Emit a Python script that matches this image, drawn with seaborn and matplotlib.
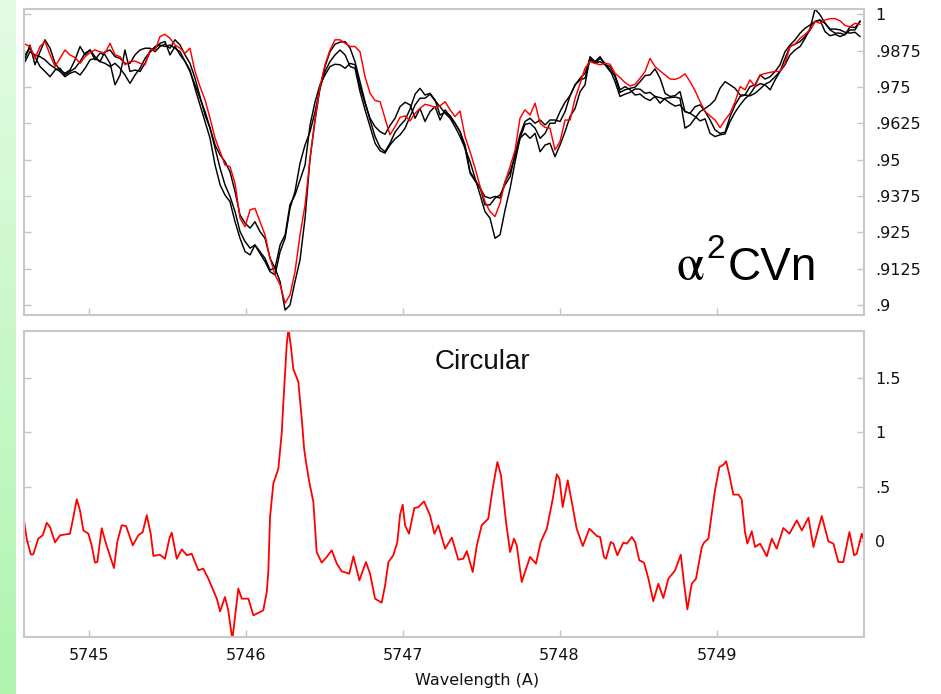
import numpy as np
import matplotlib
matplotlib.use('Agg')
import matplotlib.pyplot as plt
from matplotlib.colors import LinearSegmentedColormap
import seaborn as sns

# wavelength grid of the intensity spectra (A)
wl_top = [
    5744.596, 5744.627, 5744.659, 5744.691, 5744.723, 5744.755, 5744.787, 5744.818, 5744.850, 5744.882,
    5744.914, 5744.946, 5744.978, 5745.010, 5745.041, 5745.073, 5745.105, 5745.137, 5745.169, 5745.201,
    5745.232, 5745.264, 5745.296, 5745.328, 5745.360, 5745.392, 5745.424, 5745.455, 5745.487, 5745.519,
    5745.551, 5745.583, 5745.615, 5745.646, 5745.678, 5745.710, 5745.742, 5745.774, 5745.806, 5745.838,
    5745.869, 5745.901, 5745.933, 5745.965, 5745.997, 5746.029, 5746.060, 5746.092, 5746.124, 5746.156,
    5746.188, 5746.220, 5746.252, 5746.283, 5746.315, 5746.347, 5746.379, 5746.411, 5746.443, 5746.474,
    5746.506, 5746.538, 5746.570, 5746.602, 5746.634, 5746.666, 5746.697, 5746.729, 5746.761, 5746.793,
    5746.825, 5746.857, 5746.888, 5746.920, 5746.952, 5746.984, 5747.016, 5747.048, 5747.080, 5747.111,
    5747.143, 5747.175, 5747.207, 5747.239, 5747.271, 5747.303, 5747.334, 5747.366, 5747.398, 5747.430,
    5747.462, 5747.494, 5747.525, 5747.557, 5747.589, 5747.621, 5747.653, 5747.685, 5747.717, 5747.748,
    5747.780, 5747.812, 5747.844, 5747.876, 5747.908, 5747.939, 5747.971, 5748.003, 5748.035, 5748.067,
    5748.099, 5748.131, 5748.162, 5748.194, 5748.226, 5748.258, 5748.290, 5748.322, 5748.353, 5748.385,
    5748.417, 5748.449, 5748.481, 5748.513, 5748.545, 5748.576, 5748.608, 5748.640, 5748.672, 5748.704,
    5748.736, 5748.767, 5748.799, 5748.831, 5748.863, 5748.895, 5748.927, 5748.959, 5748.990, 5749.022,
    5749.054, 5749.086, 5749.118, 5749.150, 5749.181, 5749.213, 5749.245, 5749.277, 5749.309, 5749.341,
    5749.373, 5749.404, 5749.436, 5749.468, 5749.500, 5749.532, 5749.564, 5749.596, 5749.627, 5749.659,
    5749.691, 5749.723, 5749.755, 5749.787, 5749.818, 5749.850, 5749.882, 5749.914]

# intensity (red one + three black ones)
flux_red = [
    0.9897, 0.9889, 0.9848, 0.9889, 0.9906, 0.9860, 0.9820, 0.9848, 0.9877, 0.9860,
    0.9851, 0.9831, 0.9854, 0.9868, 0.9877, 0.9871, 0.9866, 0.9900, 0.9860, 0.9854,
    0.9826, 0.9837, 0.9839, 0.9831, 0.9826, 0.9877, 0.9877, 0.9923, 0.9931, 0.9917,
    0.9894, 0.9883, 0.9866, 0.9883, 0.9803, 0.9751, 0.9705, 0.9642, 0.9573, 0.9527,
    0.9481, 0.9476, 0.9418, 0.9298, 0.9269, 0.9327, 0.9332, 0.9286, 0.9241, 0.9160,
    0.9103, 0.9069, 0.9006, 0.9034, 0.9114, 0.9240, 0.9344,
    0.9504, 0.9642, 0.9751, 0.9826, 0.9877, 0.9912, 0.9912, 0.9900, 0.9889, 0.9889,
    0.9871, 0.9785, 0.9728, 0.9703, 0.9699, 0.9642, 0.9585, 0.9613, 0.9645, 0.9650,
    0.9633, 0.9659, 0.9676, 0.9690, 0.9686, 0.9679, 0.9685, 0.9699, 0.9671, 0.9648,
    0.9667, 0.9579, 0.9527, 0.9470, 0.9407, 0.9355, 0.9321, 0.9304, 0.9350, 0.9424,
    0.9476, 0.9533, 0.9642, 0.9671, 0.9653, 0.9694, 0.9625, 0.9610, 0.9608, 0.9533,
    0.9562, 0.9636, 0.9636, 0.9711, 0.9762, 0.9814,
    0.9837, 0.9831, 0.9826, 0.9831, 0.9828, 0.9797, 0.9782, 0.9765, 0.9753, 0.9759,
    0.9780, 0.9803, 0.9848, 0.9820, 0.9805, 0.9791, 0.9777, 0.9776, 0.9782, 0.9795,
    0.9768, 0.9737, 0.9699, 0.9665, 0.9650, 0.9636, 0.9610, 0.9636, 0.9659, 0.9699,
    0.9751, 0.9740, 0.9774, 0.9751, 0.9791, 0.9796, 0.9800, 0.9803, 0.9803, 0.9831,
    0.9889, 0.9897, 0.9917, 0.9931, 0.9946, 0.9975, 0.9969, 0.9980, 0.9985, 0.9985,
    0.9977, 0.9961, 0.9957, 0.9969, 0.9965]

flux_a = [
    0.9848, 0.9894, 0.9826, 0.9871, 0.9912, 0.9883, 0.9831, 0.9808, 0.9797, 0.9808,
    0.9843, 0.9889, 0.9860, 0.9877, 0.9843, 0.9866, 0.9860, 0.9831, 0.9757, 0.9791,
    0.9877, 0.9803, 0.9808, 0.9803, 0.9831, 0.9871, 0.9883, 0.9900, 0.9906, 0.9860,
    0.9889, 0.9860, 0.9837, 0.9803, 0.9757, 0.9711, 0.9665, 0.9608, 0.9550, 0.9516,
    0.9493, 0.9458, 0.9390, 0.9309, 0.9281, 0.9264, 0.9286, 0.9252, 0.9229, 0.9160,
    0.9126, 0.9080, 0.8982, 0.8999, 0.9080, 0.9155, 0.9298,
    0.9504, 0.9636, 0.9745, 0.9820, 0.9871, 0.9897, 0.9904, 0.9906, 0.9883, 0.9837,
    0.9768, 0.9699, 0.9636, 0.9579, 0.9541, 0.9527, 0.9556, 0.9594, 0.9617, 0.9636,
    0.9674, 0.9725, 0.9745, 0.9722, 0.9728, 0.9705, 0.9653, 0.9663, 0.9651, 0.9625,
    0.9596, 0.9539, 0.9493, 0.9436, 0.9378, 0.9321, 0.9298, 0.9229, 0.9241, 0.9327,
    0.9401, 0.9493, 0.9573, 0.9621, 0.9625, 0.9608, 0.9573, 0.9590, 0.9625, 0.9625,
    0.9665, 0.9697, 0.9720, 0.9757, 0.9780, 0.9797,
    0.9848, 0.9831, 0.9837, 0.9826, 0.9820, 0.9785, 0.9731, 0.9740, 0.9745, 0.9749,
    0.9768, 0.9789, 0.9791, 0.9812, 0.9780, 0.9728, 0.9717, 0.9720, 0.9734, 0.9665,
    0.9659, 0.9682, 0.9688, 0.9665, 0.9636, 0.9602, 0.9590, 0.9594, 0.9648, 0.9688,
    0.9717, 0.9722, 0.9719, 0.9728, 0.9743, 0.9759, 0.9768, 0.9785, 0.9803, 0.9826,
    0.9860, 0.9877, 0.9889, 0.9917, 0.9952, 1.0018, 0.9998, 0.9969, 0.9949, 0.9949,
    0.9946, 0.9938, 0.9935, 0.9938, 0.9923]

flux_b = [
    0.9837, 0.9871, 0.9860, 0.9854, 0.9843, 0.9826, 0.9814, 0.9803, 0.9785, 0.9797,
    0.9803, 0.9791, 0.9814, 0.9843, 0.9848, 0.9837, 0.9831, 0.9820, 0.9831, 0.9814,
    0.9791, 0.9762, 0.9791, 0.9814, 0.9848, 0.9871, 0.9889, 0.9894, 0.9889, 0.9894,
    0.9883, 0.9871, 0.9837, 0.9808, 0.9745, 0.9688, 0.9631, 0.9573, 0.9481, 0.9413,
    0.9378, 0.9355, 0.9286, 0.9229, 0.9183, 0.9172, 0.9206, 0.9177, 0.9149, 0.9114,
    0.9103, 0.9183, 0.9229, 0.9332, 0.9390, 0.9487, 0.9550,
    0.9596, 0.9665, 0.9745, 0.9803, 0.9837, 0.9860, 0.9877, 0.9860, 0.9820, 0.9814,
    0.9734, 0.9671, 0.9613, 0.9556, 0.9530, 0.9522, 0.9550, 0.9571, 0.9585, 0.9608,
    0.9648, 0.9688, 0.9711, 0.9711, 0.9725, 0.9702, 0.9682, 0.9659, 0.9642, 0.9613,
    0.9579, 0.9539, 0.9453, 0.9426, 0.9403, 0.9344, 0.9344, 0.9367, 0.9378, 0.9413,
    0.9441, 0.9522, 0.9585, 0.9631, 0.9642, 0.9625, 0.9636, 0.9619, 0.9636, 0.9636,
    0.9631, 0.9665, 0.9720, 0.9757, 0.9774, 0.9780,
    0.9843, 0.9831, 0.9848, 0.9831, 0.9808, 0.9768, 0.9717, 0.9725, 0.9731, 0.9743,
    0.9742, 0.9728, 0.9731, 0.9717, 0.9694, 0.9711, 0.9713, 0.9715, 0.9711, 0.9608,
    0.9619, 0.9642, 0.9665, 0.9676, 0.9688, 0.9705, 0.9745, 0.9768, 0.9757, 0.9745,
    0.9722, 0.9722, 0.9751, 0.9757, 0.9791, 0.9777, 0.9785, 0.9803, 0.9826, 0.9871,
    0.9894, 0.9912, 0.9935, 0.9952, 0.9963, 0.9975, 0.9980, 0.9969, 0.9946, 0.9935,
    0.9935, 0.9929, 0.9957, 0.9954, 0.9975]

flux_c = [
    0.9860, 0.9883, 0.9854, 0.9820, 0.9803, 0.9785, 0.9808, 0.9814, 0.9791, 0.9803,
    0.9814, 0.9837, 0.9866, 0.9877, 0.9854, 0.9837, 0.9871, 0.9877, 0.9854, 0.9848,
    0.9831, 0.9831, 0.9860, 0.9877, 0.9883, 0.9883, 0.9871, 0.9889, 0.9897, 0.9883,
    0.9912, 0.9894, 0.9860, 0.9831, 0.9780, 0.9717, 0.9653, 0.9608, 0.9539, 0.9470,
    0.9413, 0.9373, 0.9321, 0.9252, 0.9218, 0.9195, 0.9206, 0.9183, 0.9160, 0.9120,
    0.9126, 0.9206, 0.9241, 0.9344, 0.9378, 0.9430, 0.9481,
    0.9619, 0.9699, 0.9757, 0.9791, 0.9820, 0.9828, 0.9826, 0.9814, 0.9831, 0.9826,
    0.9751, 0.9694, 0.9642, 0.9613, 0.9596, 0.9587, 0.9617, 0.9642, 0.9682, 0.9697,
    0.9688, 0.9642, 0.9676, 0.9631, 0.9665, 0.9682, 0.9636, 0.9671, 0.9648, 0.9625,
    0.9596, 0.9550, 0.9458, 0.9430, 0.9401, 0.9373, 0.9367, 0.9373, 0.9367, 0.9424,
    0.9458, 0.9510, 0.9573, 0.9590, 0.9573, 0.9590, 0.9527, 0.9550, 0.9556, 0.9510,
    0.9550, 0.9596, 0.9648, 0.9676, 0.9734, 0.9757,
    0.9854, 0.9837, 0.9854, 0.9826, 0.9803, 0.9791, 0.9740, 0.9751, 0.9740, 0.9722,
    0.9725, 0.9711, 0.9703, 0.9717, 0.9713, 0.9707, 0.9694, 0.9684, 0.9688, 0.9665,
    0.9659, 0.9648, 0.9633, 0.9640, 0.9590, 0.9579, 0.9585, 0.9588, 0.9631, 0.9663,
    0.9688, 0.9709, 0.9725, 0.9751, 0.9761, 0.9757, 0.9740, 0.9774, 0.9803, 0.9848,
    0.9889, 0.9897, 0.9906, 0.9923, 0.9946, 0.9975, 0.9980, 0.9940, 0.9926, 0.9931,
    0.9923, 0.9931, 0.9946, 0.9946, 0.9977]

# circular polarisation spectrum
wl_circ = [
    5744.589, 5744.606, 5744.632, 5744.648, 5744.680, 5744.708, 5744.734, 5744.755, 5744.787, 5744.818,
    5744.882, 5744.903, 5744.925, 5744.946, 5744.967, 5744.999, 5745.020, 5745.041, 5745.056, 5745.084,
    5745.105, 5745.132, 5745.162, 5745.183, 5745.211, 5745.239, 5745.282, 5745.317, 5745.345, 5745.371,
    5745.396, 5745.413, 5745.455, 5745.487, 5745.515, 5745.530, 5745.562, 5745.594, 5745.626, 5745.657,
    5745.699, 5745.731, 5745.763, 5745.817, 5745.838, 5745.869, 5745.890, 5745.916, 5745.954, 5745.976,
    5746.018, 5746.050, 5746.113, 5746.135, 5746.145, 5746.156, 5746.177, 5746.209, 5746.231, 5746.241,
    5746.252, 5746.262, 5746.273, 5746.288, 5746.304, 5746.336, 5746.358, 5746.373, 5746.385, 5746.406,
    5746.432, 5746.453, 5746.485, 5746.517, 5746.549, 5746.581, 5746.613, 5746.661, 5746.687, 5746.704,
    5746.725, 5746.767, 5746.793, 5746.825, 5746.867, 5746.889, 5746.910, 5746.941, 5746.967, 5746.984,
    5747.001, 5747.016, 5747.041, 5747.075, 5747.101, 5747.137, 5747.175, 5747.203, 5747.228, 5747.271,
    5747.314, 5747.355, 5747.387, 5747.409, 5747.447, 5747.473, 5747.504, 5747.546, 5747.574, 5747.604,
    5747.627, 5747.659, 5747.685, 5747.710, 5747.727, 5747.759, 5747.812, 5747.850, 5747.880, 5747.919,
    5747.957, 5747.982, 5747.999, 5748.020, 5748.052, 5748.078, 5748.109, 5748.148, 5748.190, 5748.237,
    5748.258, 5748.283, 5748.296, 5748.326, 5748.343, 5748.368, 5748.406, 5748.428, 5748.460, 5748.481,
    5748.508, 5748.538, 5748.566, 5748.597, 5748.629, 5748.661, 5748.693, 5748.736, 5748.772, 5748.793,
    5748.814, 5748.842, 5748.869, 5748.906, 5748.920, 5748.948, 5748.965, 5748.990, 5749.018, 5749.044,
    5749.061, 5749.082, 5749.107, 5749.139, 5749.160, 5749.181, 5749.196, 5749.224, 5749.245, 5749.277,
    5749.320, 5749.352, 5749.383, 5749.425, 5749.464, 5749.511, 5749.543, 5749.585, 5749.617, 5749.642,
    5749.670, 5749.712, 5749.744, 5749.776, 5749.807, 5749.846, 5749.876, 5749.893, 5749.925, 5749.939]

circ = [
    0.19, 0.025, -0.12, -0.12, 0.025, 0.055, 0.17, 0.13, -0.01, 0.055,
    0.07, 0.22, 0.385, 0.28, 0.10, 0.07, -0.037, -0.195, -0.19, 0.12,
    0.01, -0.113, -0.245, -0.006, 0.147, 0.14, -0.037, 0.055, 0.085, 0.24,
    0.07, -0.134, -0.122, -0.16, 0.025, 0.08, -0.16, -0.073, -0.128, -0.113,
    -0.265, -0.25, -0.342, -0.525, -0.641, -0.51, -0.632, -0.90, -0.433, -0.525,
    -0.525, -0.678, -0.632, -0.464, -0.281, 0.222, 0.528, 0.666, 1.001, 1.276,
    1.55, 1.795, 1.95, 1.795, 1.58, 1.46, 1.124, 0.85, 0.726, 0.543,
    0.36, -0.098, -0.195, -0.143, -0.082, -0.204, -0.275, -0.296, -0.137, -0.235,
    -0.357, -0.19, -0.296, -0.525, -0.562, -0.403, -0.19, -0.128, -0.006, 0.244,
    0.336, 0.147, 0.07, 0.305, 0.314, 0.366, 0.238, 0.07, 0.147, -0.067,
    0.034, -0.168, -0.159, -0.089, -0.281, -0.037, 0.147, 0.208, 0.483, 0.726,
    0.604, 0.177, -0.098, 0.025, -0.037, -0.372, -0.143, -0.204, -0.006, 0.116,
    0.391, 0.613, 0.574, 0.314, 0.559, 0.36, 0.116, -0.043, 0.116, 0.049,
    0.04, -0.143, -0.159, -0.006, -0.021, -0.128, -0.012, -0.021, 0.04, -0.006,
    -0.174, -0.195, -0.342, -0.549, -0.388, -0.519, -0.342, -0.266, -0.122, -0.388,
    -0.623, -0.388, -0.342, -0.052, -0.012, 0.025, 0.208, 0.467, 0.68, 0.702,
    0.733, 0.604, 0.428, 0.428, 0.385, 0.085, -0.021, 0.092, -0.052, -0.021,
    -0.137, 0.025, -0.067, 0.122, 0.07, 0.192, 0.10, 0.217, -0.052, 0.085,
    0.232, 0.0, -0.021, -0.19, -0.19, 0.085, -0.128, -0.113, 0.07, 0.01]

x_ticks = [5745, 5746, 5747, 5748, 5749]
flux_ticks = [0.9, 0.9125, 0.925, 0.9375, 0.95, 0.9625, 0.975, 0.9875, 1.0]
flux_labels = ['.9', '.9125', '.925', '.9375', '.95', '.9625', '.975', '.9875', '1']
circ_ticks = [0, 0.5, 1, 1.5]
circ_labels = ['0', '.5', '1', '1.5']

sns.set_style('white')
plt.rcParams['font.family'] = ['DejaVu Sans']

W, H = 941, 694
fig = plt.figure(figsize=(W / 100, H / 100), dpi=100, facecolor='white')

# green strip on the left edge of the slide
strip = fig.add_axes([0, 0, 15 / W, 1])
cmap = LinearSegmentedColormap.from_list('strip', ['#e3fbe3', '#b0f4b0'])
strip.imshow(np.linspace(0, 1, 100).reshape(-1, 1), aspect='auto', cmap=cmap)
strip.axis('off')

ax1 = fig.add_axes([24 / W, 1 - 315 / H, 840 / W, 306 / H])
ax2 = fig.add_axes([24 / W, 1 - 637 / H, 840 / W, 306 / H])

for f in (flux_a, flux_b, flux_c):
    sns.lineplot(x=wl_top, y=f, ax=ax1, color='black', lw=1.05, estimator=None)
sns.lineplot(x=wl_top, y=flux_red, ax=ax1, color='#ff0000', lw=1.05, estimator=None)
sns.lineplot(x=wl_circ, y=circ, ax=ax2, color='#ff0000', lw=1.3, estimator=None)

ax1.set_ylim(0.8965, 1.0018)
ax1.set_yticks(flux_ticks)
ax1.set_yticklabels(flux_labels)
ax2.set_ylim(-0.876, 1.926)
ax2.set_yticks(circ_ticks)
ax2.set_yticklabels(circ_labels)

for ax in (ax1, ax2):
    ax.set_xlim(5744.589, 5749.939)
    ax.set_xticks(x_ticks)
    ax.set_xticklabels([str(t) for t in x_ticks])
    ax.set_xlabel('')
    ax.set_ylabel('')
    ax.tick_params(axis='both', direction='in', length=5, width=1, color='#c4c4c4',
                   labelsize=11.5, labelcolor='#111111', pad=8)
    ax.tick_params(axis='y', left=True, right=True, labelleft=False, labelright=True)
    ax.tick_params(axis='x', bottom=True, top=False)
    for s in ax.spines.values():
        s.set_color('#c8c8c8')
        s.set_linewidth(1.5)
ax1.tick_params(axis='x', labelbottom=False)

fig.text(482 / W, 1 - 369 / H, 'Circular', ha='center', va='baseline',
         fontsize=20, family='Liberation Sans', color='#111111')
fig.text(477 / W, 1 - 685 / H, 'Wavelength (A)', ha='center', va='baseline',
         fontsize=11.5, color='#111111')

# star name
fig.text(676 / W, 1 - 280 / H, 'α', ha='left', va='baseline',
         fontsize=36, family=['STIXGeneral', 'DejaVu Serif'], color='black')
fig.text(706 / W, 1 - 258 / H, '2', ha='left', va='baseline',
         fontsize=24, family='Liberation Sans', color='black')
fig.text(728 / W, 1 - 280 / H, 'CVn', ha='left', va='baseline',
         fontsize=33, family='Liberation Sans', color='black')

fig.savefig('out.png', dpi=100, facecolor='white')
